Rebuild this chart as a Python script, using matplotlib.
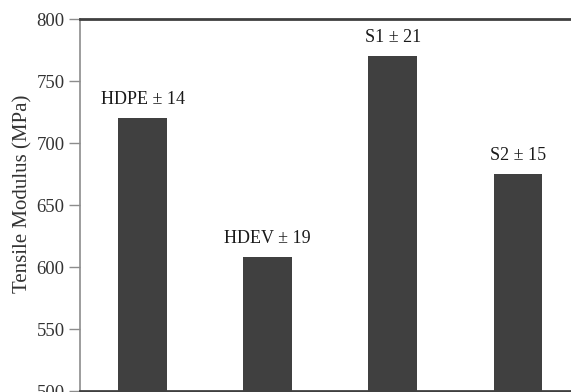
import numpy as np
import matplotlib.pyplot as plt

# data
samples = ['HDPE', 'HDEV', 'S1', 'S2']
modulus = [720, 608, 770, 675]
std_dev = [14, 19, 21, 15]

plt.rcParams['font.family'] = ['Liberation Serif', 'DejaVu Serif']

fig = plt.figure(figsize=(5.71, 3.92), dpi=100)
ax = fig.add_axes([80 / 571, 1 / 392, 500.5 / 571, 372 / 392])

x = np.arange(len(samples))
ax.bar(x, modulus, width=0.39, color='#404040')

# bar labels: "name ± sd" just above each bar
for xi, name, val, sd in zip(x, samples, modulus, std_dev):
    ax.annotate(f'{name} ± {sd}', xy=(xi, val), xytext=(0, 10),
                textcoords='offset points', ha='center', va='baseline',
                fontsize=13, color='#1a1a1a')

ax.set_xlim(-0.5, 3.5)
ax.set_ylim(500, 800)
ax.set_yticks([500, 550, 600, 650, 700, 750, 800])
ax.set_xticks([])
ax.set_ylabel('Tensile Modulus (MPa)', fontsize=15, color='#333333')
ax.yaxis.set_label_coords(-0.094, 0.53)

ax.tick_params(axis='y', direction='out', length=8, width=1, color='#8c8c8c',
               labelsize=13.5, labelcolor='#333333', pad=3)

ax.spines['left'].set_color('#8c8c8c')
ax.spines['left'].set_linewidth(1.2)
ax.spines['top'].set_color('#404040')
ax.spines['top'].set_linewidth(2)
ax.spines['bottom'].set_color('#404040')
ax.spines['bottom'].set_linewidth(2)
ax.spines['right'].set_visible(False)

fig.savefig('out.png', dpi=100)
